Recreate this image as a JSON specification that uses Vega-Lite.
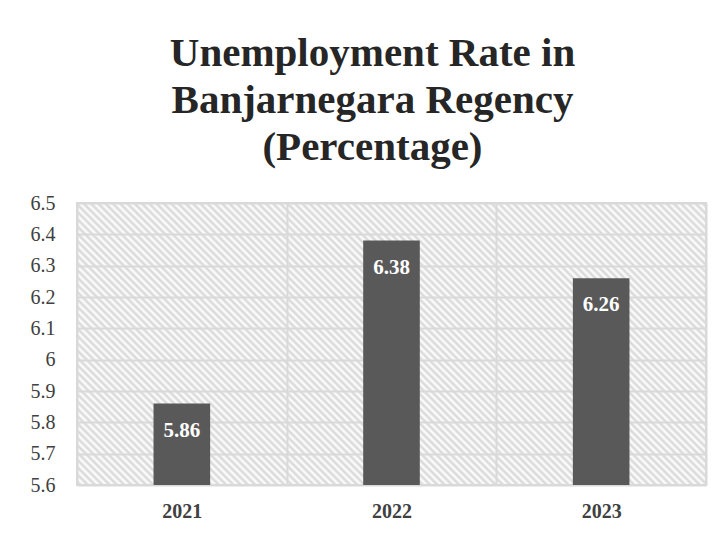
{
  "$schema": "https://vega.github.io/schema/vega-lite/v6.json",
  "autosize": "none",
  "width": 629,
  "height": 282,
  "padding": {"left": 77, "top": 203, "right": 15, "bottom": 49},
  "background": "white",
  "title": {
    "text": ["Unemployment Rate in", "Banjarnegara Regency", "(Percentage)"],
    "font": "Liberation Serif",
    "fontSize": 41,
    "fontWeight": "bold",
    "color": "#262626",
    "lineHeight": 47,
    "anchor": "middle",
    "frame": "group",
    "dx": -19,
    "offset": 24
  },
  "data": {
    "values": [
      {"year": "2021", "rate": 5.86},
      {"year": "2022", "rate": 6.38},
      {"year": "2023", "rate": 6.26}
    ]
  },
  "config": {
    "view": {"stroke": "#d9d9d9", "strokeWidth": 2, "fill": {"gradient": "linear", "x1": 0, "y1": 1, "x2": 1.206, "y2": 0.46, "stops": [
{"offset":0,"color":"#fff"},{"offset":0.004,"color":"#d6d6d6"},{"offset":0.008,"color":"#fff"},{"offset":0.012,"color":"#d6d6d6"},{"offset":0.016,"color":"#fff"},{"offset":0.02,"color":"#d6d6d6"},{"offset":0.024,"color":"#fff"},{"offset":0.028,"color":"#d6d6d6"},{"offset":0.032,"color":"#fff"},{"offset":0.036,"color":"#d6d6d6"},
{"offset":0.04,"color":"#fff"},{"offset":0.044,"color":"#d6d6d6"},{"offset":0.048,"color":"#fff"},{"offset":0.052,"color":"#d6d6d6"},{"offset":0.056,"color":"#fff"},{"offset":0.06,"color":"#d6d6d6"},{"offset":0.064,"color":"#fff"},{"offset":0.068,"color":"#d6d6d6"},{"offset":0.072,"color":"#fff"},{"offset":0.076,"color":"#d6d6d6"},
{"offset":0.08,"color":"#fff"},{"offset":0.084,"color":"#d6d6d6"},{"offset":0.088,"color":"#fff"},{"offset":0.092,"color":"#d6d6d6"},{"offset":0.096,"color":"#fff"},{"offset":0.1,"color":"#d6d6d6"},{"offset":0.104,"color":"#fff"},{"offset":0.108,"color":"#d6d6d6"},{"offset":0.112,"color":"#fff"},{"offset":0.116,"color":"#d6d6d6"},
{"offset":0.12,"color":"#fff"},{"offset":0.124,"color":"#d6d6d6"},{"offset":0.128,"color":"#fff"},{"offset":0.132,"color":"#d6d6d6"},{"offset":0.136,"color":"#fff"},{"offset":0.14,"color":"#d6d6d6"},{"offset":0.144,"color":"#fff"},{"offset":0.148,"color":"#d6d6d6"},{"offset":0.152,"color":"#fff"},{"offset":0.156,"color":"#d6d6d6"},
{"offset":0.16,"color":"#fff"},{"offset":0.164,"color":"#d6d6d6"},{"offset":0.168,"color":"#fff"},{"offset":0.172,"color":"#d6d6d6"},{"offset":0.176,"color":"#fff"},{"offset":0.18,"color":"#d6d6d6"},{"offset":0.184,"color":"#fff"},{"offset":0.188,"color":"#d6d6d6"},{"offset":0.192,"color":"#fff"},{"offset":0.196,"color":"#d6d6d6"},
{"offset":0.2,"color":"#fff"},{"offset":0.204,"color":"#d6d6d6"},{"offset":0.208,"color":"#fff"},{"offset":0.212,"color":"#d6d6d6"},{"offset":0.216,"color":"#fff"},{"offset":0.22,"color":"#d6d6d6"},{"offset":0.224,"color":"#fff"},{"offset":0.228,"color":"#d6d6d6"},{"offset":0.232,"color":"#fff"},{"offset":0.236,"color":"#d6d6d6"},
{"offset":0.24,"color":"#fff"},{"offset":0.244,"color":"#d6d6d6"},{"offset":0.248,"color":"#fff"},{"offset":0.252,"color":"#d6d6d6"},{"offset":0.256,"color":"#fff"},{"offset":0.26,"color":"#d6d6d6"},{"offset":0.264,"color":"#fff"},{"offset":0.268,"color":"#d6d6d6"},{"offset":0.272,"color":"#fff"},{"offset":0.276,"color":"#d6d6d6"},
{"offset":0.28,"color":"#fff"},{"offset":0.284,"color":"#d6d6d6"},{"offset":0.288,"color":"#fff"},{"offset":0.292,"color":"#d6d6d6"},{"offset":0.296,"color":"#fff"},{"offset":0.3,"color":"#d6d6d6"},{"offset":0.304,"color":"#fff"},{"offset":0.308,"color":"#d6d6d6"},{"offset":0.312,"color":"#fff"},{"offset":0.316,"color":"#d6d6d6"},
{"offset":0.32,"color":"#fff"},{"offset":0.324,"color":"#d6d6d6"},{"offset":0.328,"color":"#fff"},{"offset":0.332,"color":"#d6d6d6"},{"offset":0.336,"color":"#fff"},{"offset":0.34,"color":"#d6d6d6"},{"offset":0.344,"color":"#fff"},{"offset":0.348,"color":"#d6d6d6"},{"offset":0.352,"color":"#fff"},{"offset":0.356,"color":"#d6d6d6"},
{"offset":0.36,"color":"#fff"},{"offset":0.364,"color":"#d6d6d6"},{"offset":0.368,"color":"#fff"},{"offset":0.372,"color":"#d6d6d6"},{"offset":0.376,"color":"#fff"},{"offset":0.38,"color":"#d6d6d6"},{"offset":0.384,"color":"#fff"},{"offset":0.388,"color":"#d6d6d6"},{"offset":0.392,"color":"#fff"},{"offset":0.396,"color":"#d6d6d6"},
{"offset":0.4,"color":"#fff"},{"offset":0.404,"color":"#d6d6d6"},{"offset":0.408,"color":"#fff"},{"offset":0.412,"color":"#d6d6d6"},{"offset":0.416,"color":"#fff"},{"offset":0.42,"color":"#d6d6d6"},{"offset":0.424,"color":"#fff"},{"offset":0.428,"color":"#d6d6d6"},{"offset":0.432,"color":"#fff"},{"offset":0.436,"color":"#d6d6d6"},
{"offset":0.44,"color":"#fff"},{"offset":0.444,"color":"#d6d6d6"},{"offset":0.448,"color":"#fff"},{"offset":0.452,"color":"#d6d6d6"},{"offset":0.456,"color":"#fff"},{"offset":0.46,"color":"#d6d6d6"},{"offset":0.464,"color":"#fff"},{"offset":0.468,"color":"#d6d6d6"},{"offset":0.472,"color":"#fff"},{"offset":0.476,"color":"#d6d6d6"},
{"offset":0.48,"color":"#fff"},{"offset":0.484,"color":"#d6d6d6"},{"offset":0.488,"color":"#fff"},{"offset":0.492,"color":"#d6d6d6"},{"offset":0.496,"color":"#fff"},{"offset":0.5,"color":"#d6d6d6"},{"offset":0.504,"color":"#fff"},{"offset":0.508,"color":"#d6d6d6"},{"offset":0.512,"color":"#fff"},{"offset":0.516,"color":"#d6d6d6"},
{"offset":0.52,"color":"#fff"},{"offset":0.524,"color":"#d6d6d6"},{"offset":0.528,"color":"#fff"},{"offset":0.532,"color":"#d6d6d6"},{"offset":0.536,"color":"#fff"},{"offset":0.54,"color":"#d6d6d6"},{"offset":0.544,"color":"#fff"},{"offset":0.548,"color":"#d6d6d6"},{"offset":0.552,"color":"#fff"},{"offset":0.556,"color":"#d6d6d6"},
{"offset":0.56,"color":"#fff"},{"offset":0.564,"color":"#d6d6d6"},{"offset":0.568,"color":"#fff"},{"offset":0.572,"color":"#d6d6d6"},{"offset":0.576,"color":"#fff"},{"offset":0.58,"color":"#d6d6d6"},{"offset":0.584,"color":"#fff"},{"offset":0.588,"color":"#d6d6d6"},{"offset":0.592,"color":"#fff"},{"offset":0.596,"color":"#d6d6d6"},
{"offset":0.6,"color":"#fff"},{"offset":0.604,"color":"#d6d6d6"},{"offset":0.608,"color":"#fff"},{"offset":0.612,"color":"#d6d6d6"},{"offset":0.616,"color":"#fff"},{"offset":0.62,"color":"#d6d6d6"},{"offset":0.624,"color":"#fff"},{"offset":0.628,"color":"#d6d6d6"},{"offset":0.632,"color":"#fff"},{"offset":0.636,"color":"#d6d6d6"},
{"offset":0.64,"color":"#fff"},{"offset":0.644,"color":"#d6d6d6"},{"offset":0.648,"color":"#fff"},{"offset":0.652,"color":"#d6d6d6"},{"offset":0.656,"color":"#fff"},{"offset":0.66,"color":"#d6d6d6"},{"offset":0.664,"color":"#fff"},{"offset":0.668,"color":"#d6d6d6"},{"offset":0.672,"color":"#fff"},{"offset":0.676,"color":"#d6d6d6"},
{"offset":0.68,"color":"#fff"},{"offset":0.684,"color":"#d6d6d6"},{"offset":0.688,"color":"#fff"},{"offset":0.692,"color":"#d6d6d6"},{"offset":0.696,"color":"#fff"},{"offset":0.7,"color":"#d6d6d6"},{"offset":0.704,"color":"#fff"},{"offset":0.708,"color":"#d6d6d6"},{"offset":0.712,"color":"#fff"},{"offset":0.716,"color":"#d6d6d6"},
{"offset":0.72,"color":"#fff"},{"offset":0.724,"color":"#d6d6d6"},{"offset":0.728,"color":"#fff"},{"offset":0.732,"color":"#d6d6d6"},{"offset":0.736,"color":"#fff"},{"offset":0.74,"color":"#d6d6d6"},{"offset":0.744,"color":"#fff"},{"offset":0.748,"color":"#d6d6d6"},{"offset":0.752,"color":"#fff"},{"offset":0.756,"color":"#d6d6d6"},
{"offset":0.76,"color":"#fff"},{"offset":0.764,"color":"#d6d6d6"},{"offset":0.768,"color":"#fff"},{"offset":0.772,"color":"#d6d6d6"},{"offset":0.776,"color":"#fff"},{"offset":0.78,"color":"#d6d6d6"},{"offset":0.784,"color":"#fff"},{"offset":0.788,"color":"#d6d6d6"},{"offset":0.792,"color":"#fff"},{"offset":0.796,"color":"#d6d6d6"},
{"offset":0.8,"color":"#fff"},{"offset":0.804,"color":"#d6d6d6"},{"offset":0.808,"color":"#fff"},{"offset":0.812,"color":"#d6d6d6"},{"offset":0.816,"color":"#fff"},{"offset":0.82,"color":"#d6d6d6"},{"offset":0.824,"color":"#fff"},{"offset":0.828,"color":"#d6d6d6"},{"offset":0.832,"color":"#fff"},{"offset":0.836,"color":"#d6d6d6"},
{"offset":0.84,"color":"#fff"},{"offset":0.844,"color":"#d6d6d6"},{"offset":0.848,"color":"#fff"},{"offset":0.852,"color":"#d6d6d6"},{"offset":0.856,"color":"#fff"},{"offset":0.86,"color":"#d6d6d6"},{"offset":0.864,"color":"#fff"},{"offset":0.868,"color":"#d6d6d6"},{"offset":0.872,"color":"#fff"},{"offset":0.876,"color":"#d6d6d6"},
{"offset":0.88,"color":"#fff"},{"offset":0.884,"color":"#d6d6d6"},{"offset":0.888,"color":"#fff"},{"offset":0.892,"color":"#d6d6d6"},{"offset":0.896,"color":"#fff"},{"offset":0.9,"color":"#d6d6d6"},{"offset":0.904,"color":"#fff"},{"offset":0.908,"color":"#d6d6d6"},{"offset":0.912,"color":"#fff"},{"offset":0.916,"color":"#d6d6d6"},
{"offset":0.92,"color":"#fff"},{"offset":0.924,"color":"#d6d6d6"},{"offset":0.928,"color":"#fff"},{"offset":0.932,"color":"#d6d6d6"},{"offset":0.936,"color":"#fff"},{"offset":0.94,"color":"#d6d6d6"},{"offset":0.944,"color":"#fff"},{"offset":0.948,"color":"#d6d6d6"},{"offset":0.952,"color":"#fff"},{"offset":0.956,"color":"#d6d6d6"},
{"offset":0.96,"color":"#fff"},{"offset":0.964,"color":"#d6d6d6"},{"offset":0.968,"color":"#fff"},{"offset":0.972,"color":"#d6d6d6"},{"offset":0.976,"color":"#fff"},{"offset":0.98,"color":"#d6d6d6"},{"offset":0.984,"color":"#fff"},{"offset":0.988,"color":"#d6d6d6"},{"offset":0.992,"color":"#fff"},{"offset":0.996,"color":"#d6d6d6"},
{"offset":1,"color":"#fff"}
]}},
    "axis": {"domain": false, "ticks": false, "gridColor": "#d9d9d9", "gridWidth": 2, "gridOpacity": 1}
  },
  "encoding": {
    "x": {
      "field": "year", "type": "nominal",
      "scale": {"paddingInner": 0, "paddingOuter": 0},
      "axis": {"title": null, "labelAngle": 0, "grid": true, "tickBand": "extent",
               "labelFont": "Liberation Serif", "labelFontSize": 20, "labelFontWeight": "bold",
               "labelColor": "#404040", "labelPadding": 16}
    },
    "y": {"field": "rate", "type": "quantitative",
          "scale": {"domain": [5.6, 6.5], "zero": false, "nice": false},
          "axis": {"title": null, "values": [5.6,5.7,5.8,5.9,6.0,6.1,6.2,6.3,6.4,6.5], "format": ".1~f",
                   "labelFont": "Liberation Serif", "labelFontSize": 20, "labelColor": "#404040",
                   "labelPadding": 22, "grid": true}}
  },
  "layer": [
    {
      "mark": {"type": "bar", "width": {"band": 0.27}, "color": "#595959"},
      "encoding": {
        "y2": {"datum": 5.6}
      }
    },
    {
      "mark": {"type": "text", "color": "white", "font": "Liberation Serif", "fontSize": 21,
               "fontWeight": "bold", "baseline": "top", "dy": 16},
      "encoding": {
        "text": {"field": "rate", "type": "quantitative", "format": ".2f"}
      }
    }
  ]
}
